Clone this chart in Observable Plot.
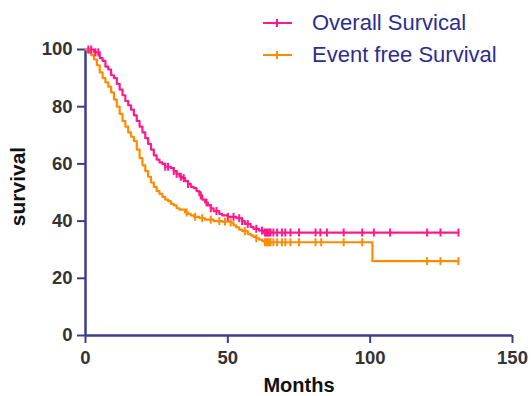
<!DOCTYPE html>
<html>
<head>
<meta charset="utf-8">
<script src="https://cdn.jsdelivr.net/npm/d3@7"></script>
<script src="https://cdn.jsdelivr.net/npm/@observablehq/plot@0.6"></script>
<style>
  html, body { margin: 0; padding: 0; background: #fff; }
  #wrap { position: relative; width: 531px; height: 396px; font-family: "Liberation Sans", Arial, sans-serif; }
  .leg { position: absolute; left: 262px; font-size: 22px; line-height: 22px; color: #2d2d8f; white-space: nowrap; }
  .leg svg { position: absolute; left: 0; }
  .leg span { position: absolute; left: 50px; top: 0; }
</style>
</head>
<body>
<div id="wrap"></div>
<script>
// ---- data ----
const seriesNames = ["Overall Survical", "Event free Survival"];
const seriesColors = ["#ff1a8c", "#ff8c00"];

// Overall survival: step times (months) and survival (%)
const osTime = [0, 3, 5, 6, 7, 8, 9, 10, 11, 12, 13, 14, 15, 16, 17, 18, 19, 20, 21, 22, 23, 24, 25, 26, 27, 28, 30, 31, 32, 33, 34, 35, 36, 37, 38, 39, 40, 41, 42, 43, 44, 45, 47, 48, 50, 53, 55, 56, 58, 59, 61, 62.5, 131];
const osSurv = [100, 99, 97, 96, 94, 93, 91, 90, 88, 86, 84, 82, 80.5, 79, 77, 75, 73, 71, 69, 67, 65, 63, 61.5, 60.5, 60, 59, 58.5, 57.5, 56.5, 55.5, 55, 54, 53, 52, 51.5, 50.5, 49, 47.5, 46.5, 45.5, 44.5, 43.5, 42.5, 42, 41.5, 41, 40, 39, 38, 37.3, 36.7, 36, 36];
const osCensor = [1, 2, 3.5, 4.5, 28, 29, 31, 32, 33.5, 34.5, 36, 40.5, 42.5, 44, 46, 50, 52, 54, 55, 57, 60, 62, 63, 63.5, 64, 64.5, 65, 66, 67.3, 69, 70.2, 72, 75, 80.8, 82.5, 84.8, 90.7, 97.2, 101.3, 107, 120, 124.7, 131];

// Event free survival
const efsTime = [0, 1, 2, 3, 4, 5, 6, 7, 8, 9, 10, 11, 12, 13, 14, 15, 16, 17, 18, 19, 20, 21, 22, 23, 24, 25, 26, 27, 28, 29, 30, 31, 32, 33, 35, 36, 37, 38, 40, 42, 45, 48, 51, 52, 53, 54, 55, 57, 58, 59, 60, 61, 62, 63, 100.8, 131];
const efsSurv = [100, 99, 98, 96.5, 94.5, 92, 90, 88.5, 87, 85, 82.5, 80, 77.5, 75, 73, 71, 69.5, 68, 65, 62, 59.5, 57.5, 55.5, 53.5, 52, 50.5, 49.5, 48.5, 47.5, 47, 46, 45.5, 44.5, 44, 43, 42.5, 42, 41.5, 41, 40.5, 40, 39.8, 39.5, 38.5, 37.8, 37, 36.5, 35.5, 35, 34.5, 34, 33.5, 33, 32.6, 26, 26];
const efsCensor = [35.5, 38.5, 41, 44, 47, 49, 51, 56, 60, 63, 63.5, 64, 64.5, 65, 66, 67.3, 69, 70.2, 72, 75, 80.8, 82.8, 90.7, 97.2, 120, 124.7, 131];

const xTicks = [0, 50, 100, 150];
const yTicks = [0, 20, 40, 60, 80, 100];

// ---- build tables ----
function stepRows(times, survs, name) {
  return times.map((t, i) => ({time: t, surv: survs[i], series: name}));
}
function censorRows(censor, times, survs, name) {
  const bis = d3.bisectRight;
  return censor.map(t => {
    const i = Math.max(0, bis(times, t) - 1);
    return {time: t, surv: survs[i], series: name};
  });
}
const lines = [...stepRows(osTime, osSurv, seriesNames[0]), ...stepRows(efsTime, efsSurv, seriesNames[1])];
const marks = [...censorRows(osCensor, osTime, osSurv, seriesNames[0]), ...censorRows(efsCensor, efsTime, efsSurv, seriesNames[1])];

// vertical tick symbol for censor marks
const vtick = { draw(ctx, size) { const r = Math.sqrt(size / Math.PI); ctx.moveTo(0, -r); ctx.lineTo(0, r); } };

const axisColor = "#3c3c8c";
const labelColor = "#333333";

const chart = Plot.plot({
  width: 531,
  height: 396,
  marginLeft: 85,
  marginRight: 19,
  marginTop: 49,
  marginBottom: 61,
  style: {fontFamily: "'Liberation Sans', Arial, sans-serif", background: "#fff", overflow: "visible"},
  x: {domain: [0, 150]},
  y: {domain: [0, 100]},
  color: {domain: seriesNames, range: seriesColors},
  marks: [
    Plot.axisX({ticks: xTicks, tickSize: 8, tickPadding: 7, stroke: axisColor, strokeWidth: 2, fill: labelColor, fontSize: 18.5, fontWeight: "bold", label: null}),
    Plot.axisY({ticks: yTicks, tickSize: 8, tickPadding: 5, stroke: axisColor, strokeWidth: 2, fill: labelColor, fontSize: 18.5, fontWeight: "bold", label: null}),
    Plot.ruleY([0], {stroke: axisColor, strokeWidth: 2.5}),
    Plot.ruleX([0], {stroke: axisColor, strokeWidth: 2.5}),
    Plot.line(lines, {x: "time", y: "surv", z: "series", stroke: "series", strokeWidth: 2.2, curve: "step-after"}),
    Plot.dot(marks, {x: "time", y: "surv", stroke: "series", symbol: vtick, r: 4, strokeWidth: 2, fill: "none"}),
    Plot.text(["Months"], {frameAnchor: "bottom", textAnchor: "middle", dy: 56, lineAnchor: "bottom", fontSize: 20, fontWeight: "bold", fill: "#111"}),
    Plot.text(["survival"], {frameAnchor: "left", textAnchor: "middle", lineAnchor: "middle", dx: -67, dy: -6, rotate: -90, fontSize: 21, fontWeight: "bold", fill: "#111"})
  ]
});

const wrap = document.getElementById("wrap");
wrap.appendChild(chart);

// legend overlay
const legTops = [12, 44];
seriesNames.forEach((name, i) => {
  const d = document.createElement("div");
  d.className = "leg";
  d.style.top = legTops[i] + "px";
  d.innerHTML = `<svg width="32" height="12" style="top:${5}px"><line x1="1" y1="6" x2="30" y2="6" stroke="${seriesColors[i]}" stroke-width="2"/><line x1="15" y1="2" x2="15" y2="10" stroke="${seriesColors[i]}" stroke-width="2"/></svg><span></span>`;
  d.querySelector("span").textContent = name;
  wrap.appendChild(d);
});
</script>
</body>
</html>
